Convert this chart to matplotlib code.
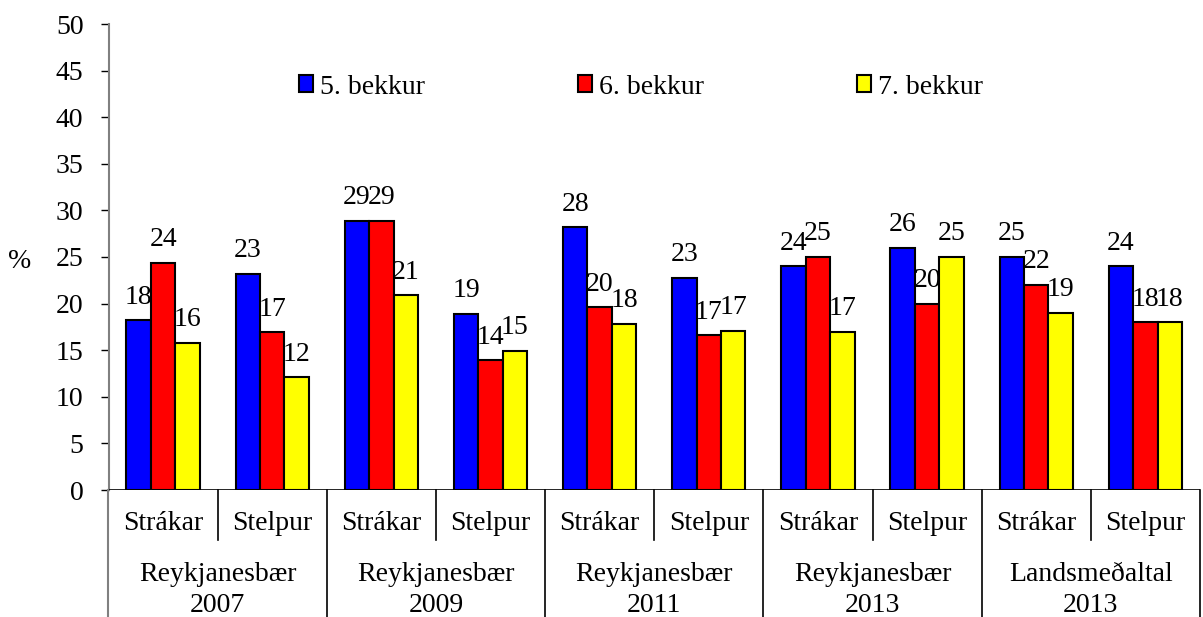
import matplotlib
matplotlib.use("Agg")
import matplotlib.pyplot as plt
import matplotlib.transforms as mtransforms
import numpy as np

# --- DATA ---
sub_labels = ["Strákar", "Stelpur"] * 5
group_labels = ["Reykjanesbær\n2007", "Reykjanesbær\n2009", "Reykjanesbær\n2011",
                "Reykjanesbær\n2013", "Landsmeðaltal\n2013"]
series_names = ["5. bekkur", "6. bekkur", "7. bekkur"]
bekkur5 = [18.2, 23.2, 28.9, 18.9, 28.2, 22.8, 24, 26, 25, 24]
bekkur6 = [24.4, 16.9, 28.9, 13.9, 19.6, 16.6, 25, 20, 22, 18]
bekkur7 = [15.8, 12.1, 20.9, 14.9, 17.8, 17.1, 17, 25, 19, 18]
colors = ["#0000FF", "#FF0000", "#FFFF00"]

plt.rcParams['font.family'] = ['Liberation Serif', 'DejaVu Serif']
FS = 20

fig = plt.figure(figsize=(12.03, 6.17), dpi=100)
ax = fig.add_axes([108.5 / 1203, (617 - 490) / 617, (1200 - 108.5) / 1203, 466 / 617])

x = np.arange(len(sub_labels))
w = 0.224
series = [bekkur5, bekkur6, bekkur7]
for i, (vals, c, name) in enumerate(zip(series, colors, series_names)):
    pos = x + (i - 1) * w
    ax.bar(pos, vals, width=w, color=c, edgecolor='black', linewidth=1.5, label=name, zorder=3)
    for px, v in zip(pos, vals):
        ax.annotate(f"{v:.0f}", (px, v), xytext=(0, 12), textcoords='offset points',
                    ha='center', va='baseline', fontsize=FS)

ax.set_xlim(-0.5, len(sub_labels) - 0.5)
ax.set_ylim(0, 50)
ax.set_yticks(np.arange(0, 51, 5))
ax.tick_params(axis='y', direction='out', length=6, width=1, labelsize=FS, pad=12)
ax.set_xticks([])
for s in ['top', 'right', 'bottom']:
    ax.spines[s].set_visible(False)
ax.spines['left'].set_color('#808080')
ax.spines['left'].set_linewidth(1.5)
ax.axhline(0, color='black', lw=1.2, zorder=4)

# multi-level category axis
trans = mtransforms.blended_transform_factory(ax.transData, ax.transAxes)
short_y = -50 / 466
long_y = -127 / 466
for k in range(len(sub_labels) + 1):
    xb = k - 0.5
    y_end = long_y if k % 2 == 0 else short_y
    col = '#808080' if k == 0 else 'black'
    ax.plot([xb, xb], [0, y_end], transform=trans, color=col, lw=1.2 if k else 1.5, clip_on=False)

for k, lab in enumerate(sub_labels):
    ax.text(k, -33 / 466, lab, transform=trans, ha='center', va='center', fontsize=FS)
for g, lab in enumerate(group_labels):
    ax.text(2 * g + 0.5, -100 / 466, lab, transform=trans, ha='center', va='center',
            fontsize=FS, linespacing=1.3)

fig.text(20 / 1203, 1 - 262 / 617, "%", ha='center', va='center', fontsize=FS)

fig.legend(loc='center', bbox_to_anchor=(641 / 1203, 1 - 87 / 617), ncol=3, frameon=False,
           fontsize=FS, handlelength=0.5, handleheight=0.55, handletextpad=0.25,
           columnspacing=5.5)

fig.savefig("out.png", dpi=100)
